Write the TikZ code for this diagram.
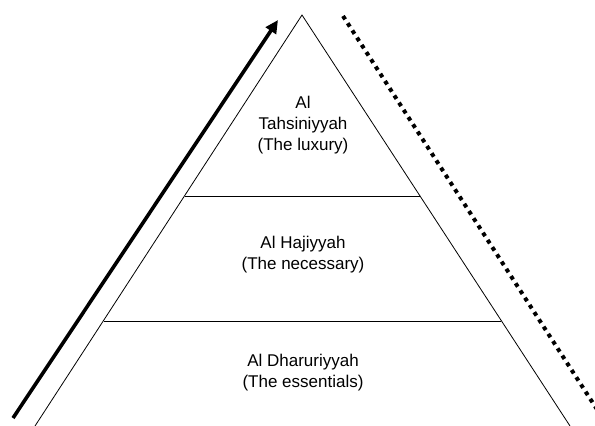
\documentclass[tikz,border=0pt]{standalone}
\usepackage{fontspec}
\setmainfont{Liberation Sans}
\usetikzlibrary{arrows.meta}
\tikzset{
  tier/.style={align=center, font=\fontsize{17bp}{21bp}\selectfont, inner sep=0pt},
  edge/.style={line width=0.8bp, black},
  uparrow/.style={line width=3.6bp, -{Triangle[length=13bp,width=12bp]}},
  dotline/.style={line width=4bp, dash pattern=on 4bp off 4.6bp}
}
\begin{document}
\begin{tikzpicture}[x=1bp,y=-1bp]
\useasboundingbox (0,0) rectangle (595,425);
\begin{scope}
\clip (0,0) rectangle (595,425);
% pyramid
\coordinate (apex) at (302,15);
\coordinate (bl) at (35,426);
\coordinate (br) at (570,426);
\coordinate (l1) at (184.5,196);
\coordinate (r1) at (420,196);
\coordinate (l2) at (103.5,321);
\coordinate (r2) at (501,321);
\draw[edge, line join=miter] (bl) -- (apex) -- (br);
\draw[edge] (l1) -- (r1);
\draw[edge] (l2) -- (r2);
% labels
\node[tier] (top) at (303,125) {Al\\Tahsiniyyah\\(The luxury)};
\node[tier] (mid) at (303,255) {Al Hajiyyah\\(The necessary)};
\node[tier] (bot) at (303,372.5) {Al Dharuriyyah\\(The essentials)};
% arrow and dotted line
\coordinate (as) at (13,418);
\coordinate (ae) at (278,20);
\draw[uparrow] (as) -- (ae);
\coordinate (ds) at (343,16);
\coordinate (de) at (600,414);
\draw[dotline] (ds) -- (de);
\end{scope}
\end{tikzpicture}
\end{document}
